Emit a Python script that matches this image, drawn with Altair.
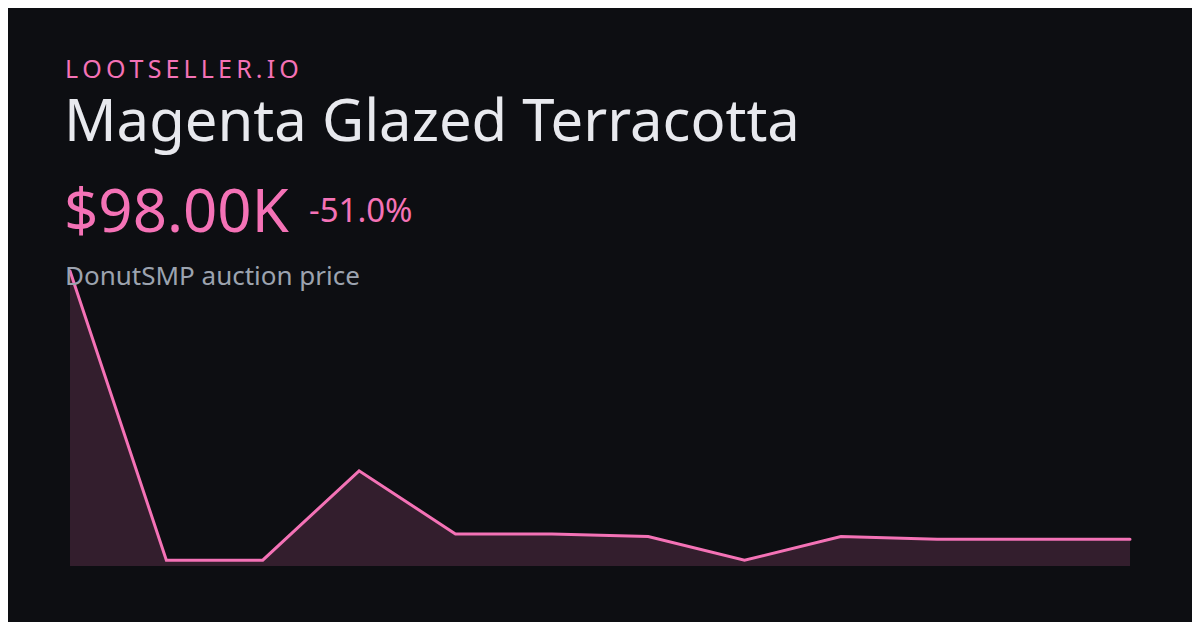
import altair as alt
import pandas as pd

# ---- data ----
prices_k = [200, 90, 90, 124, 100, 100, 99, 90, 99, 98, 98, 98]
brand = "LOOTSELLER.IO"
item_name = "Magenta Glazed Terracotta"
price_label = "$98.00K"
change_label = "-51.0%"
subtitle = "DonutSMP auction price"

BG = "#0d0e12"
PINK = "#f472b6"
WHITE = "#e8e9ee"
GRAY = "#9ca3af"
FONT = "Noto Sans"

W, H = 1184, 614
Y_MIN, Y_MAX = 87.8, 200

df = pd.DataFrame({"i": list(range(len(prices_k))), "price": prices_k})

x = alt.X("i:Q", axis=None, scale=alt.Scale(domain=[0, len(prices_k) - 1], range=[62, 1122], nice=False))
y = alt.Y("price:Q", axis=None, scale=alt.Scale(domain=[Y_MIN, Y_MAX], range=[558, 263], nice=False, zero=False))

base = alt.Chart(df)
area = base.mark_area(color=PINK, opacity=0.17).encode(x=x, y=y, y2=alt.datum(Y_MIN))
line = base.mark_line(color=PINK, strokeWidth=3, strokeCap="round").encode(x=x, y=y)

one = pd.DataFrame({"k": [0]})

def txt(s, px, py, size, color, **kw):
    return alt.Chart(one).mark_text(
        text=s, align="left", baseline="alphabetic", font=FONT, fontSize=size, color=color, **kw
    ).encode(x=alt.value(px), y=alt.value(py))

spaced = "\u2009".join(brand)
t1 = txt(spaced, 57, 70, 25, PINK)
t2 = txt(item_name, 56, 133, 58, WHITE)
t3 = txt(price_label, 56, 224, 60, PINK)
t4 = txt(change_label, 301, 214, 33, PINK)
t5 = txt(subtitle, 57, 277, 26, GRAY)

chart = alt.layer(area, line, t1, t2, t3, t4, t5).properties(
    width=W, height=H, padding=0, autosize=alt.AutoSizeParams(type="none"), background=BG
).configure_view(stroke=None)

chart.save("out.html", embed_options={"renderer": "svg", "actions": False})
